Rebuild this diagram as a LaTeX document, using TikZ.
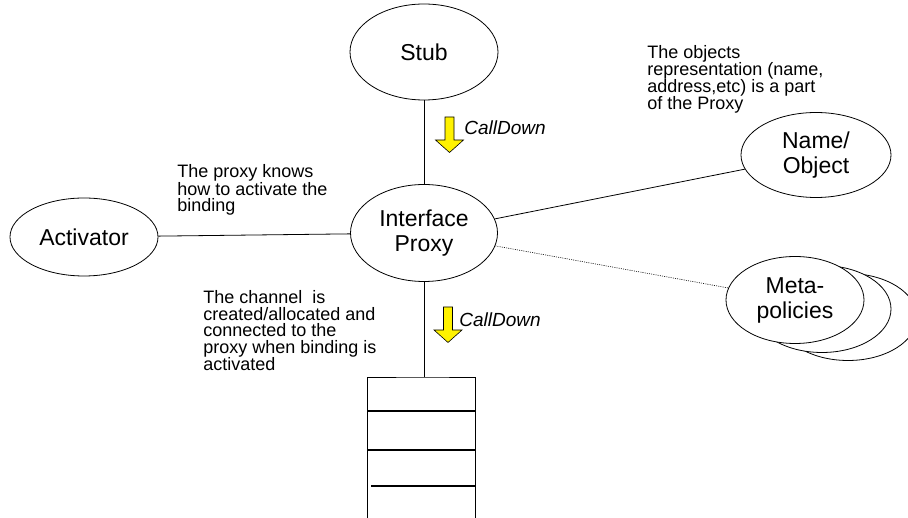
\documentclass[tikz,border=0pt]{standalone}
\usepackage{fontspec}
\setmainfont{Liberation Sans}
\usetikzlibrary{shapes.geometric}

\tikzset{
  blob/.style={draw, ellipse, inner sep=0pt, align=center, font=\fontsize{23}{25}\selectfont},
  metablob/.style={blob, fill=white, minimum width=138pt, minimum height=87pt},
  note/.style={anchor=base west, inner sep=0pt, align=left, font=\fontsize{18}{16.6}\selectfont},
  calldown/.style={fill=yellow, draw=black, line width=0.6pt},
}

\begin{document}
\begin{tikzpicture}[x=1pt,y=-1pt,line width=0.8pt]
\clip (0,0) rectangle (908,518);

% the proxy and the ellipses round it
\node[blob,minimum width=147pt,minimum height=97pt] (proxy) at (424,233) {Interface\\Proxy};
\node[blob,minimum width=148pt,minimum height=96pt] (stub) at (424,52) {Stub};
\node[blob,minimum width=148pt,minimum height=78pt] (act) at (84,237) {Activator};
\node[blob,minimum width=150pt,minimum height=85pt] (name) at (816,155) {Name/\\Object};

% meta-policies, a stack of three
\node[metablob] (meta3) at (848,317) {};
\node[metablob] (meta2) at (822,309) {};
\node[metablob] (meta) at (795,300) {Meta-\\policies};

\draw (stub) -- (proxy);
\draw (act) -- (proxy);
\draw (proxy) -- (name);
\draw[line width=0.6pt,dash pattern=on 1pt off 1.2pt] (proxy) -- (meta);

% the channel below the proxy
\coordinate (chan) at (424,377);
\draw (proxy) -- (chan);
\draw (367,522) |- (chan) -| (475,522);
\foreach \x/\y in {367/411, 367/450, 371/486}
  \draw[line width=1.2pt] (\x,\y) -- (475,\y);

% call-down arrows
\foreach \ax/\ay/\lx/\ly/\i in {449.5/117/464/135/1, 448/307/459/327/2} {
  \draw[calldown] (\ax,\ay) ++(-4.5,0) -- ++(9,0) -- ++(0,23) -- ++(9.5,0)
    -- ++(-14,12.5) -- ++(-14,-12.5) -- ++(9.5,0) -- cycle;
  \node[note,font=\fontsize{19}{16.6}\selectfont\itshape] (down\i) at (\lx,\ly) {CallDown};
}

% notes (placed by the baseline of their last line)
\node[note] (knows) at (177,212) {The proxy knows\\how to activate the\\binding};
\node[note,font=\fontsize{18}{17}\selectfont] (objrep) at (647,110) {The objects\\representation (name,\\address,etc) is a part\\of the Proxy};
\node[note] (chanrep) at (203,371) {The channel~ is\\created/allocated and\\connected to the\\proxy when binding is\\activated};
\end{tikzpicture}
\end{document}
